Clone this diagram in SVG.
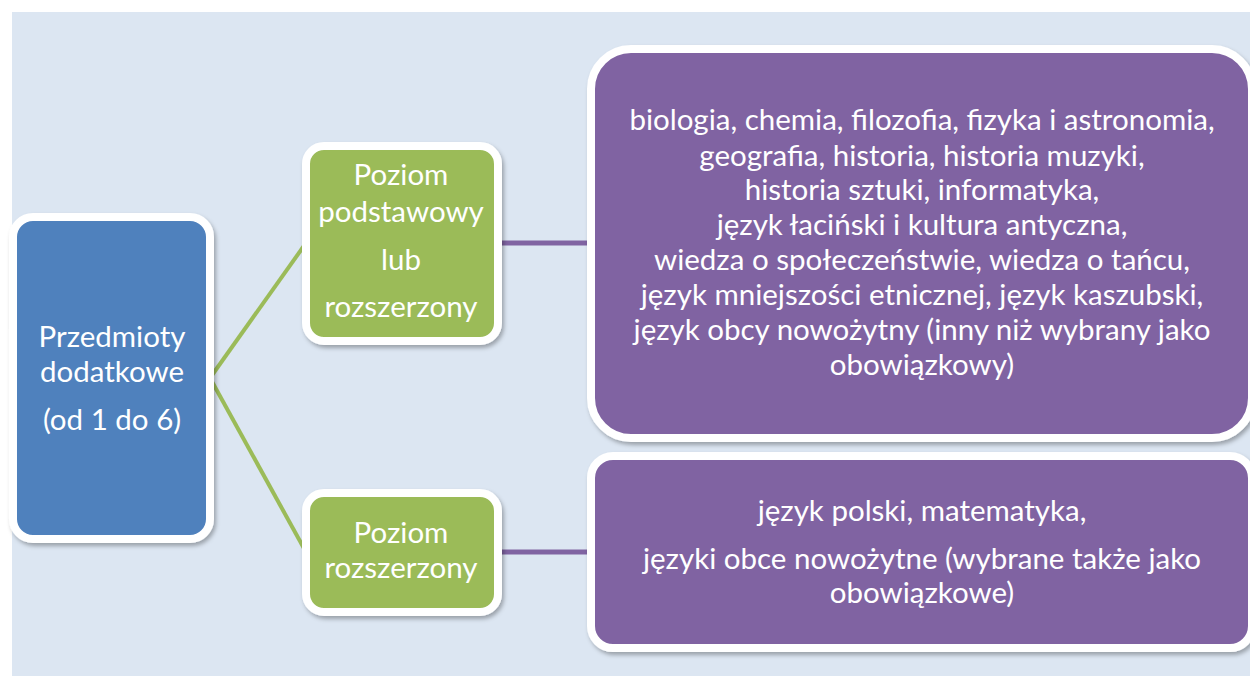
<svg xmlns="http://www.w3.org/2000/svg" width="1250" height="677" viewBox="0 0 1250 677">
  <defs>
    <filter id="sh" x="-10%" y="-10%" width="120%" height="120%">
      <feDropShadow dx="2" dy="3" stdDeviation="2" flood-color="#000" flood-opacity="0.3"/>
    </filter>
    <style>
      .box { stroke: #FFFFFF; stroke-width: 8; filter: url(#sh); }
      .blue { fill: #4F81BD; }
      .green { fill: #9BBB59; }
      .purple { fill: #8064A2; }
      .t { font-family: Lato, "Open Sans", sans-serif; font-size: 29.5px; fill: #FFFFFF; text-anchor: middle; }
      .gl { stroke: #9BBB59; stroke-width: 4; fill: none; }
      .pl { stroke: #8064A2; stroke-width: 5; fill: none; }
    </style>
  </defs>
  <rect x="0" y="0" width="1250" height="677" fill="#FFFFFF"/>
  <rect x="12" y="12" width="1238" height="664" fill="#DCE6F2"/>

  <g id="connectors">
    <line class="gl" x1="210" y1="378" x2="306" y2="243"/>
    <line class="gl" x1="210" y1="378" x2="306" y2="552"/>
    <line class="pl" x1="497" y1="243" x2="593" y2="243"/>
    <line class="pl" x1="497" y1="552" x2="593" y2="552"/>
  </g>

  <g id="node-main">
    <rect class="box blue" x="13" y="217" width="197" height="322" rx="20"/>
    <text class="t" x="112" y="347">Przedmioty</text>
    <text class="t" x="112" y="382">dodatkowe</text>
    <text class="t" x="112" y="430">(od 1 do 6)</text>
  </g>

  <g id="node-podst">
    <rect class="box green" x="306" y="146" width="192" height="195" rx="18"/>
    <text class="t" x="401" y="185">Poziom</text>
    <text class="t" x="401" y="222">podstawowy</text>
    <text class="t" x="401" y="270">lub</text>
    <text class="t" x="401" y="317">rozszerzony</text>
  </g>

  <g id="node-rozsz">
    <rect class="box green" x="306" y="493" width="192" height="119" rx="18"/>
    <text class="t" x="401" y="543">Poziom</text>
    <text class="t" x="401" y="578">rozszerzony</text>
  </g>

  <g id="node-list1">
    <rect class="box purple" x="591" y="49" width="661" height="389" rx="40"/>
    <text class="t" x="922" y="130">biologia, chemia, filozofia, fizyka i astronomia,</text>
    <text class="t" x="922" y="166">geografia, historia, historia muzyki,</text>
    <text class="t" x="922" y="200">historia sztuki, informatyka,</text>
    <text class="t" x="922" y="235">język łaciński i kultura antyczna,</text>
    <text class="t" x="922" y="270">wiedza o społeczeństwie, wiedza o tańcu,</text>
    <text class="t" x="922" y="305">język mniejszości etnicznej, język kaszubski,</text>
    <text class="t" x="922" y="340">język obcy nowożytny (inny niż wybrany jako</text>
    <text class="t" x="922" y="375">obowiązkowy)</text>
  </g>

  <g id="node-list2">
    <rect class="box purple" x="591" y="456" width="661" height="192" rx="22"/>
    <text class="t" x="922" y="521">język polski, matematyka,</text>
    <text class="t" x="922" y="569">języki obce nowożytne (wybrane także jako</text>
    <text class="t" x="922" y="603">obowiązkowe)</text>
  </g>
</svg>
